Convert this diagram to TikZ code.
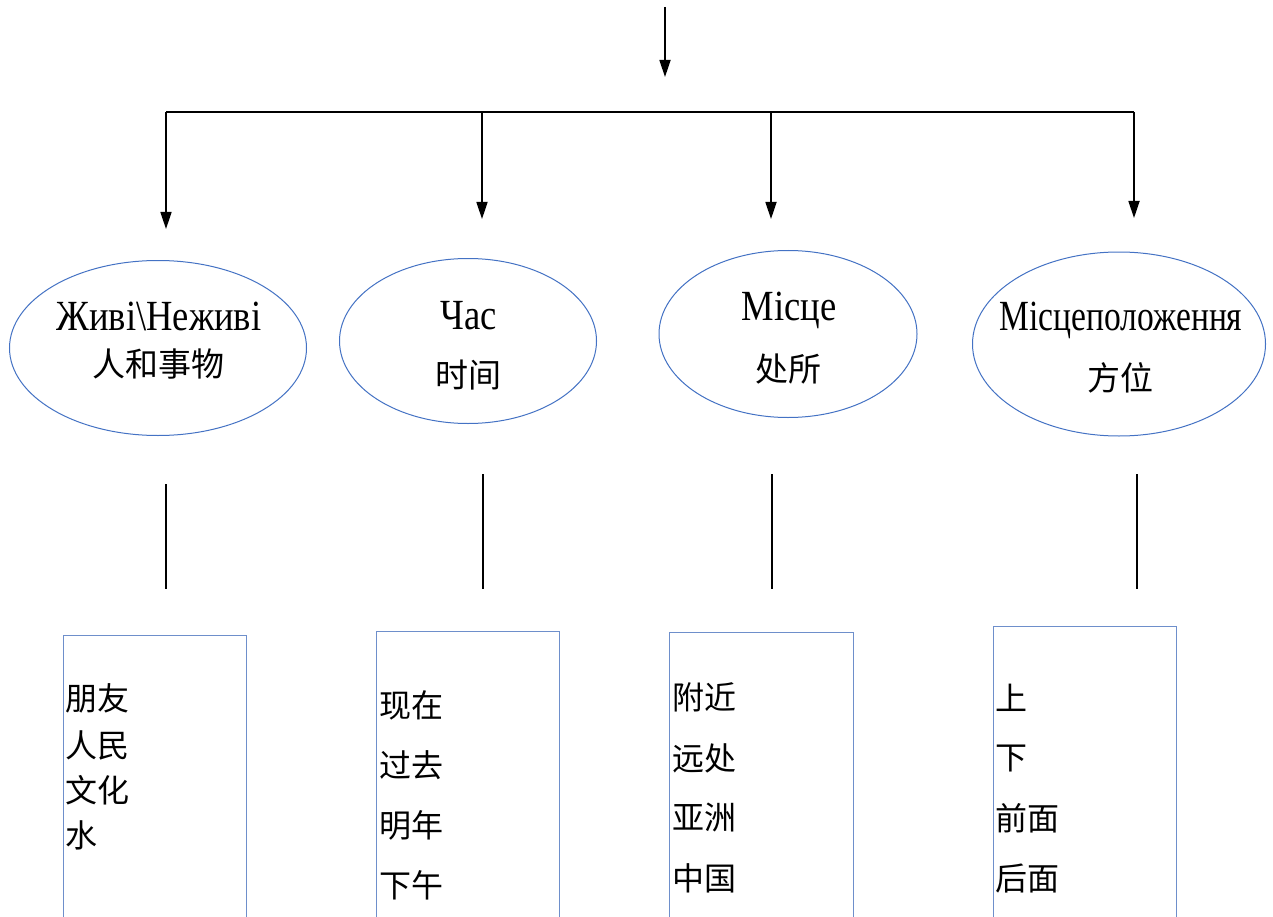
\documentclass[tikz,border=0pt]{standalone}
\usepackage{fontspec}
\setmainfont{Liberation Serif}
\newfontfamily\cyr[FakeStretch=0.85]{Liberation Serif}
\newfontfamily\cyrn[FakeStretch=0.78]{Liberation Serif}
\newfontfamily\cjk{Noto Sans CJK SC}
\usetikzlibrary{shapes.geometric,arrows.meta}
\definecolor{ellblue}{HTML}{4472C4}
\definecolor{boxblue}{HTML}{6E8FCB}
\tikzset{
  conn/.style={line width=1.7pt, black},
  arr/.style={conn, -{Triangle[width=11pt,length=17pt]}},
  ell/.style={ellipse, draw=ellblue, line width=1pt, inner sep=0pt},
  cyrlab/.style={font=\cyr\fontsize{43}{46}\selectfont, inner sep=0pt},
  cyrnarrow/.style={font=\cyrn\fontsize{43}{46}\selectfont, inner sep=0pt},
  cjklab/.style={font=\cjk\fontsize{33}{36}\selectfont, inner sep=0pt},
  itemlab/.style={font=\cjk\fontsize{32}{36}\selectfont, inner sep=0pt, anchor=west},
  boxnode/.style={rectangle, draw=boxblue, line width=1pt, anchor=north west, inner sep=0pt}
}
\begin{document}
\begin{tikzpicture}[x=1pt,y=-1pt]
\clip (0,0) rectangle (1273,917);
\fill[white] (0,0) rectangle (1273,917);
% top arrow
\coordinate (top) at (665,7);
\coordinate (topend) at (665,77);
\draw[arr] (top) -- (topend);
% bar
\coordinate (barL) at (166,112);
\coordinate (barR) at (1134,112);
\draw[line width=2.4pt] (barL) -- (barR);
\coordinate (b1) at (166,112); \coordinate (e1top) at (166,229);
\coordinate (b2) at (482,112); \coordinate (e2top) at (482,219);
\coordinate (b3) at (771,112); \coordinate (e3top) at (771,219);
\coordinate (b4) at (1134,112); \coordinate (e4top) at (1134,218);
\draw[arr] (b1) -- (e1top);
\draw[arr] (b2) -- (e2top);
\draw[arr] (b3) -- (e3top);
\draw[arr] (b4) -- (e4top);
% ellipses
\node[ell, minimum width=297pt, minimum height=175pt] (E1) at (158,348) {};
\node[ell, minimum width=257pt, minimum height=165pt] (E2) at (468,341) {};
\node[ell, minimum width=258pt, minimum height=167pt] (E3) at (788,334) {};
\node[ell, minimum width=293pt, minimum height=184pt] (E4) at (1119,344) {};
\node[cyrlab] (t1a) at (159,316) {Живі\textbackslash Неживі};
\node[cjklab] (t1b) at (158,364) {人和事物};
\node[cyrlab] (t2a) at (469,316) {Час};
\node[cjklab] (t2b) at (468,375) {时间};
\node[cyrlab] (t3a) at (789,310) {Місце};
\node[cjklab] (t3b) at (788,369) {处所};
\node[cyrnarrow] (t4a) at (1121,320) {Місцеположення};
\node[cjklab] (t4b) at (1120,378) {方位};
% vertical lines
\coordinate (v1a) at (166,484); \coordinate (v1b) at (166,589);
\coordinate (v2a) at (483,474); \coordinate (v2b) at (483,589);
\coordinate (v3a) at (772,474); \coordinate (v3b) at (772,589);
\coordinate (v4a) at (1137,474); \coordinate (v4b) at (1137,589);
\draw[conn] (v1a) -- (v1b);
\draw[conn] (v2a) -- (v2b);
\draw[conn] (v3a) -- (v3b);
\draw[conn] (v4a) -- (v4b);
% boxes
\node[boxnode, minimum width=183pt, minimum height=300pt] (B1) at (63,635) {};
\node[boxnode, minimum width=183pt, minimum height=300pt] (B2) at (376,631) {};
\node[boxnode, minimum width=184pt, minimum height=300pt] (B3) at (669,632) {};
\node[boxnode, minimum width=183pt, minimum height=300pt] (B4) at (993,626) {};
% box texts
\node[itemlab] (i11) at (65,698) {朋友};
\node[itemlab] (i12) at (65,745) {人民};
\node[itemlab] (i13) at (65,790) {文化};
\node[itemlab] (i14) at (65,835) {水};
\node[itemlab] (i21) at (379,705) {现在};
\node[itemlab] (i22) at (379,765) {过去};
\node[itemlab] (i23) at (379,825) {明年};
\node[itemlab] (i24) at (379,885) {下午};
\node[itemlab] (i31) at (672,697) {附近};
\node[itemlab] (i32) at (672,758) {远处};
\node[itemlab] (i33) at (672,818) {亚洲};
\node[itemlab] (i34) at (672,878) {中国};
\node[itemlab] (i41) at (995,698) {上};
\node[itemlab] (i42) at (995,758) {下};
\node[itemlab] (i43) at (995,818) {前面};
\node[itemlab] (i44) at (995,878) {后面};
\end{tikzpicture}
\end{document}
